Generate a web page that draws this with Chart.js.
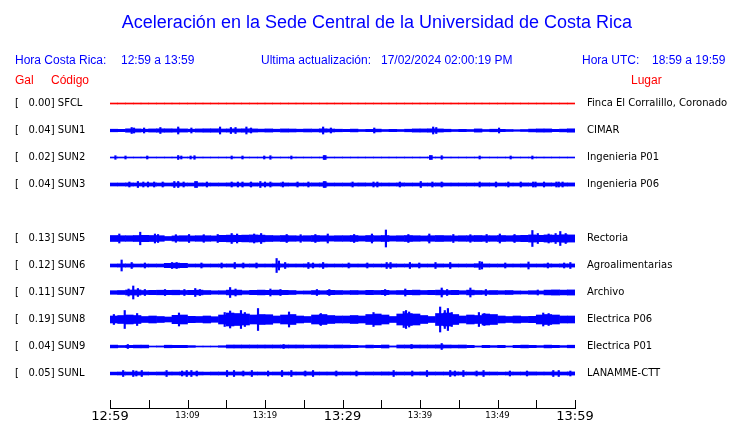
<!DOCTYPE html>
<html>
<head>
<meta charset="utf-8">
<script src="https://cdn.jsdelivr.net/npm/chart.js@4/dist/chart.umd.min.js"></script>
<style>
  body { margin: 0; background: #fff; }
  #wrap { position: relative; width: 740px; height: 423px; overflow: hidden; }
  #c { position: absolute; left: 0; top: 0; }
  .t { position: absolute; white-space: pre; font-family: "Liberation Sans", Arial, sans-serif; font-size: 12px; line-height: 14px; color: #0000ff; }
  .red { color: #ff0000; }
</style>
</head>
<body>
<div id="wrap">
  <canvas id="c" width="740" height="423"></canvas>
  <div class="t" style="left:7px;width:740px;text-align:center;top:11px;font-size:18px;line-height:22px;">Aceleración en la Sede Central de la Universidad de Costa Rica</div>
  <div class="t" style="left:15px;top:53px;">Hora Costa Rica:</div>
  <div class="t" style="left:121px;top:53px;">12:59 a 13:59</div>
  <div class="t" style="left:261px;top:53px;">Ultima actualización:</div>
  <div class="t" style="left:381px;top:53px;">17/02/2024 02:00:19 PM</div>
  <div class="t" style="left:582px;top:53px;">Hora UTC:</div>
  <div class="t" style="left:652px;top:53px;">18:59 a 19:59</div>
  <div class="t red" style="left:15px;top:73px;">Gal</div>
  <div class="t red" style="left:51px;top:73px;">Código</div>
  <div class="t red" style="left:631px;top:73px;">Lugar</div>
</div>
<script>
// estaciones (la fila vacia es SUN4, sin datos)
const codes = ['SFCL', 'SUN1', 'SUN2', 'SUN3', '', 'SUN5', 'SUN6', 'SUN7', 'SUN8', 'SUN9', 'SUNL'];
const galPeaks = ['0.00', '0.04', '0.02', '0.04', '', '0.13', '0.12', '0.11', '0.19', '0.04', '0.05'];
const places = ['Finca El Corralillo, Coronado', 'CIMAR', 'Ingenieria P01', 'Ingenieria P06', '',
  'Rectoria', 'Agroalimentarias', 'Archivo', 'Electrica P06', 'Electrica P01', 'LANAMME-CTT'];

// eje de tiempo (minutos desde 12:59)
const tickMinutes = [0, 10, 20, 30, 40, 50, 60];
const tickLabels = ['12:59', '13:09', '13:19', '13:29', '13:39', '13:49', '13:59'];
const majorLabels = ['12:59', '13:29', '13:59'];

// envolvente por minuto (semi-amplitud) y picos [minuto, semi-amplitud]
const sfclEnv = [
  0.5,0.5,0.5,0.5,0.5,0.5,0.5,0.5,0.5,0.5,
  0.5,0.5,0.5,0.5,0.5,0.5,0.5,0.5,0.5,0.5,
  0.5,0.5,0.5,0.5,0.5,0.5,0.5,0.5,0.5,0.5,
  0.5,0.5,0.5,0.5,0.5,0.5,0.5,0.5,0.5,0.5,
  0.5,0.5,0.5,0.5,0.5,0.5,0.5,0.5,0.5,0.5,
  0.5,0.5,0.5,0.5,0.5,0.5,0.5,0.5,0.5,0.5];
const sfclSpikes = [];

const sun1Env = [
  1.3,1.2,1.7,1.6,1.3,1.6,1.7,1.7,1.6,1.6,
  1.3,1.6,1.7,1.7,1.5,1.6,1.6,1.7,1.6,1.4,
  1.6,1.3,1.6,1.5,1.3,1.5,1.4,1.7,1.5,1.3,
  1.2,1.4,1.0,1.2,1.4,1.0,1.2,1.0,1.3,1.6,
  1.6,1.7,1.6,1.3,1.0,1.2,1.0,1.6,1.0,1.3,
  1.2,1.0,0.8,1.0,1.4,1.6,1.6,1.2,1.4,1.7];
const sun1Spikes = [[2.8,3],[3.1,2.5],[4.4,2.5],[6.5,3],[8.8,3.5],[10.5,2.5],[14.2,3.5],[15.6,3],[16.2,3],
  [17.6,3.5],[18.2,2.5],[27.5,3.5],[28.5,2.5],[34.1,2.5],[41.7,3.5],[42.1,3],[50.2,2.5]];

const sun2Env = [
  0.5,0.5,0.5,0.5,0.5,0.5,0.5,0.5,0.5,0.5,
  0.5,0.5,0.5,0.5,0.5,0.5,0.5,0.5,0.5,0.5,
  0.5,0.5,0.5,0.5,0.5,0.5,0.5,0.5,0.5,0.5,
  0.5,0.5,0.5,0.5,0.5,0.5,0.5,0.5,0.5,0.5,
  0.5,0.5,0.5,0.5,0.5,0.5,0.5,0.5,0.5,0.5,
  0.5,0.5,0.5,0.5,0.5,0.5,0.5,0.5,0.5,0.5];
const sun2Spikes = [[0.7,1.8],[2.0,1.5],[4.8,1.5],[8.8,2],[9.2,1.5],[10.4,1.5],[10.9,1.8],[15.7,1.5],[17.1,1.5],
  [19.9,1.5],[20.7,1.8],[23.4,1.5],[27.6,2],[27.8,2],[41.3,2],[41.5,2],[42.8,1.8],[47.7,1.5],[51.7,1.5],[54.5,1.5]];

const sun3Env = [
  1.5,1.5,1.6,1.5,1.5,1.6,1.5,1.5,1.6,1.5,
  1.5,1.6,1.5,1.5,1.5,1.6,1.5,1.5,1.6,1.5,
  1.5,1.5,1.6,1.5,1.5,1.5,1.6,1.7,1.5,1.5,
  1.5,1.5,1.6,1.5,1.5,1.5,1.5,1.6,1.5,1.5,
  1.5,1.5,1.6,1.5,1.5,1.5,1.5,1.5,1.6,1.5,
  1.5,1.5,1.5,1.6,1.5,1.5,1.6,1.5,1.6,1.6];
const sun3Spikes = [[2.5,2.5],[3.6,3],[4.3,2.5],[4.9,2.5],[5.7,2.5],[6.8,2.5],[8.3,3],[8.8,3],[9.5,2.5],[11,3],
  [11.2,3],[12.5,2.5],[15.7,2.5],[16.5,2.5],[17.1,2.5],[18.2,2.5],[19.4,3],[20,2.5],[20.7,2.5],[22.3,2.5],
  [24.2,2.5],[25.6,2.5],[27.6,3],[27.8,3],[31.3,2.5],[34,2.5],[34.5,2.5],[37.4,2.5],[40.1,3],[41.6,2.5],
  [42.8,2.5],[47.7,2.5],[49.8,2.5],[51.4,2.5],[53,2.5],[54.6,2.5],[54.9,2.5],[56,2.5],[57.6,2.5],[57.9,2.5],[58.4,2.5]];

const sun5Env = [
  3.0,2.8,2.8,3.0,3.2,3.0,2.8,2.0,2.6,2.8,
  2.6,2.8,2.8,2.6,3.2,3.4,3.2,3.4,3.6,3.4,
  3.0,2.8,3.0,2.8,2.6,2.8,3.0,2.8,2.6,2.8,
  2.8,3.0,2.6,3.0,2.8,3.0,2.6,2.8,3.0,2.8,
  2.6,2.8,3.0,2.8,2.6,2.8,2.8,3.0,2.8,2.8,
  3.0,2.8,3.0,3.2,3.6,3.2,3.6,3.4,3.8,3.6];
const sun5Spikes = [[1.2,4.5],[3.9,6.3],[5.8,4.5],[6.2,4],[8.5,3.8],[10.2,4],[12.1,3.8],[13.9,4],[15.7,5],[16.4,4.5],
  [18.6,4.5],[19.5,5],[22.8,4],[24.6,3.8],[26.5,4],[28.1,4.5],[31.5,4],[33.8,4.5],[35.6,8.5],[38.5,4],
  [41.2,4.5],[44.3,4],[46.5,3.8],[48.6,4],[50.3,4.5],[52.2,4],[54.5,8],[55.2,5],[56.6,4.5],[57.5,5],[58.1,7],[58.8,5]];

const sun6Env = [
  1.5,1.6,1.6,1.5,1.5,1.5,1.5,2.2,2.4,2.2,
  1.5,1.5,1.5,1.5,1.5,1.6,1.5,1.5,1.6,1.5,
  1.5,1.6,1.6,1.5,1.5,1.6,1.5,1.6,1.5,1.5,
  1.5,1.5,1.5,1.5,1.5,1.5,1.6,1.5,1.5,1.5,
  1.5,1.5,1.6,1.5,1.5,1.5,1.5,1.8,1.6,1.5,
  1.5,1.5,1.5,1.6,1.5,1.5,1.6,1.5,1.6,1.6];
const sun6Spikes = [[1.5,5.5],[2.8,3],[4.5,2.5],[8,3],[8.6,3],[11.8,2.5],[14.4,2.5],[16.1,3],[17.2,2.5],[18.9,2.5],
  [21.5,7],[21.8,4.5],[22.6,3],[25.6,3],[26.2,2.5],[27.5,3],[30.8,2.5],[33.2,2.5],[35.7,3],[36.2,3],
  [38.7,3],[39.9,2.5],[42,3],[43.9,3],[47.7,4],[48,3.5],[51,2.5],[54,3.5],[56.5,2.5],[58.6,2.5],[59.4,3]];

const sun7Env = [
  1.8,2.0,2.5,2.6,2.0,2.2,2.3,2.2,2.3,2.0,
  2.2,2.4,2.0,1.7,1.8,2.4,2.4,1.8,2.2,2.4,
  2.2,2.4,2.2,2.0,1.5,1.6,2.0,1.8,2.2,2.0,
  1.8,2.0,1.8,2.2,2.0,2.2,1.8,2.0,2.2,2.4,
  2.0,2.2,2.4,2.0,2.2,1.8,2.4,2.0,1.8,2.0,
  1.8,2.0,1.6,1.5,1.8,1.6,2.4,2.6,2.4,2.6];
const sun7Spikes = [[2.4,3.5],[3.0,6.5],[3.6,4],[4.5,3],[7.1,3],[9.6,3],[11,4],[11.6,3],[15.5,5],[16.2,3.5],
  [20.7,3.5],[22,3],[26.7,3],[28.3,3],[35.5,3],[38.1,3.5],[42.8,4.5],[43.5,3],[46.5,4.5],[48.5,3],[55.2,2.5]];

const sun8Env = [
  3.5,4.0,4.5,4.0,3.0,3.5,3.0,2.5,4.2,4.5,
  3.2,3.0,3.5,2.8,4.5,6.5,6.0,5.5,4.5,5.0,
  4.8,3.5,4.5,5.0,3.5,3.0,4.5,5.0,4.0,3.5,
  3.5,4.0,3.5,5.0,5.5,4.5,3.0,5.5,6.0,5.5,
  4.0,3.0,6.0,6.5,5.0,3.5,4.5,4.0,5.5,5.0,
  3.5,3.0,3.5,3.0,3.2,4.5,5.0,4.5,3.5,3.5];
const sun8Spikes = [[0.5,5],[1.9,9],[3.5,6],[8.9,6.5],[14.8,7],[15.5,8.5],[16.9,9],[17.4,7],[19.1,11],[23.1,7.5],
  [27.2,6],[34,7],[37.9,8],[38.2,9],[38.6,7.5],[42.6,12.5],[43.2,9],[43.6,11],[44.1,7],[47.6,7],[48.3,6],[55.9,6.5],[56.6,6]];

const sun9Env = [
  1.4,1.0,1.2,1.4,1.4,0.5,0.6,1.3,1.2,1.2,
  0.9,0.5,0.5,0.5,0.8,1.5,1.5,1.5,1.5,1.5,
  1.5,1.5,1.5,1.5,1.5,1.4,1.5,1.5,1.4,1.5,
  1.4,1.2,0.9,1.4,1.2,1.5,0.6,1.5,1.5,1.5,
  1.5,1.5,1.6,1.5,1.4,1.5,1.2,0.6,1.2,0.9,
  1.2,0.6,1.2,1.4,1.2,0.9,1.4,1.2,0.9,1.3];
const sun9Spikes = [[2.3,2],[22.4,2],[38.9,2],[42.8,3]];

const sunlEnv = [
  1.4,1.5,1.5,1.6,1.5,1.4,1.5,1.5,1.5,1.6,
  1.5,1.5,1.4,1.5,1.5,1.5,1.6,1.5,1.5,1.5,
  1.4,1.5,1.5,1.5,1.5,1.6,1.5,1.5,1.5,1.5,
  1.5,1.5,1.4,1.5,1.5,1.6,1.5,1.5,1.5,1.5,
  1.6,1.5,1.5,1.5,1.6,1.5,1.5,1.5,1.5,1.5,
  1.4,1.5,1.5,1.5,1.6,1.5,1.5,1.6,1.5,1.6];
const sunlSpikes = [[1.7,3],[3,3],[3.4,2.5],[4.1,3],[7.3,3],[9.3,2.5],[9.9,3],[10.5,3],[11.2,2.5],[15.1,3],
  [16,3],[17.2,2.5],[18.3,3],[20.4,2.5],[22.2,3],[23.4,3],[25.2,2.5],[26.2,3],[29.2,2.5],[31.8,2.5],
  [36.6,3],[39,2.5],[40.9,3],[43.9,3],[44.5,2.5],[45.6,3],[47.3,2.5],[48.2,3],[51.6,2.5],[53.8,2.5],
  [57.2,3],[57.9,3],[59.4,2.5]];

const envelopes = [sfclEnv, sun1Env, sun2Env, sun3Env, null, sun5Env, sun6Env, sun7Env, sun8Env, sun9Env, sunlEnv];
const spikes = [sfclSpikes, sun1Spikes, sun2Spikes, sun3Spikes, null, sun5Spikes, sun6Spikes, sun7Spikes, sun8Spikes, sun9Spikes, sunlSpikes];

const rowGap = 27; // separacion vertical entre trazas

const datasets = [];
envelopes.forEach((env, row) => {
  if (!env) return;
  const c = row * rowGap;
  const color = row === 0 ? '#ff0000' : '#0000ff';
  datasets.push({
    data: env.map((a, m) => ({ x: m + 0.5, y: [c - a, c + a] })),
    backgroundColor: color,
    stack: 'trazas',
    barThickness: 'flex',
    barPercentage: 1,
    categoryPercentage: 1,
    borderWidth: 0,
  });
  datasets.push({
    data: spikes[row].map(([m, a]) => ({ x: m, y: [c - a, c + a] })),
    backgroundColor: color,
    stack: 'trazas',
    barThickness: 1.5,
    borderWidth: 0,
  });
});

// marcas del eje de tiempo hacia arriba
const upTicks = {
  id: 'upTicks',
  afterDraw(chart) {
    const xs = chart.scales.x;
    const ctx = chart.ctx;
    ctx.save();
    ctx.strokeStyle = '#000';
    ctx.lineWidth = 1;
    xs.ticks.forEach(t => {
      const px = Math.round(xs.getPixelForValue(t.value)) + 0.5;
      ctx.beginPath();
      ctx.moveTo(px, xs.top);
      ctx.lineTo(px, xs.top - 8);
      ctx.stroke();
    });
    ctx.restore();
  }
};

const rowTicks = (scale) => { scale.ticks = codes.map((c, i) => ({ value: i * rowGap })); };
// sin relleno extra arriba/abajo por las etiquetas de las filas
const fixRows = (w) => (scale) => {
  scale.width = w;
  scale.paddingTop = 0;
  scale.paddingBottom = 0;
};

new Chart(document.getElementById('c'), {
  type: 'bar',
  data: { datasets },
  plugins: [upTicks],
  options: {
    responsive: false,
    animation: false,
    layout: { padding: { left: 15, right: 0, top: 90, bottom: 0 } },
    plugins: { legend: { display: false }, tooltip: { enabled: false } },
    scales: {
      x: {
        type: 'linear',
        min: 0,
        max: 60,
        offset: false,
        grid: { display: false, drawTicks: false, offset: false },
        border: { display: true, color: '#000', width: 1 },
        afterFit: (scale) => { scale.height = 15; },
        ticks: {
          stepSize: 5,
          autoSkip: false,
          maxRotation: 0,
          padding: 2,
          color: '#000',
          font: (ctx) => {
            const big = ctx.tick && majorLabels.includes(tickLabels[tickMinutes.indexOf(ctx.tick.value)]);
            return big ? { family: 'DejaVu Sans', size: 13, lineHeight: 1.05 }
                       : { family: 'DejaVu Sans', size: 8.5, lineHeight: 1.41 };
          },
          callback: (v) => {
            const i = tickMinutes.indexOf(v);
            return i >= 0 ? tickLabels[i] : '';
          }
        }
      },
      y: {
        type: 'linear',
        position: 'left',
        reverse: true,
        stacked: false,
        min: -13.5,
        max: 304.5,
        grid: { display: false, drawTicks: false },
        border: { display: false },
        afterBuildTicks: rowTicks,
        afterFit: fixRows(95),
        ticks: {
          autoSkip: false,
          crossAlign: 'far',
          padding: 3,
          color: '#000',
          font: { family: 'DejaVu Sans', size: 10 },
          callback: (v, i) => codes[i] ? '[   ' + galPeaks[i] + '] ' + codes[i] : ''
        }
      },
      y2: {
        type: 'linear',
        position: 'right',
        reverse: true,
        stacked: false,
        min: -13.5,
        max: 304.5,
        grid: { display: false, drawTicks: true, tickLength: 9 },
        border: { display: false },
        afterBuildTicks: rowTicks,
        afterFit: fixRows(165),
        ticks: {
          autoSkip: false,
          crossAlign: 'near',
          padding: 3,
          color: '#000',
          font: { family: 'DejaVu Sans', size: 10 },
          callback: (v, i) => places[i]
        }
      }
    }
  }
});
</script>
</body>
</html>
